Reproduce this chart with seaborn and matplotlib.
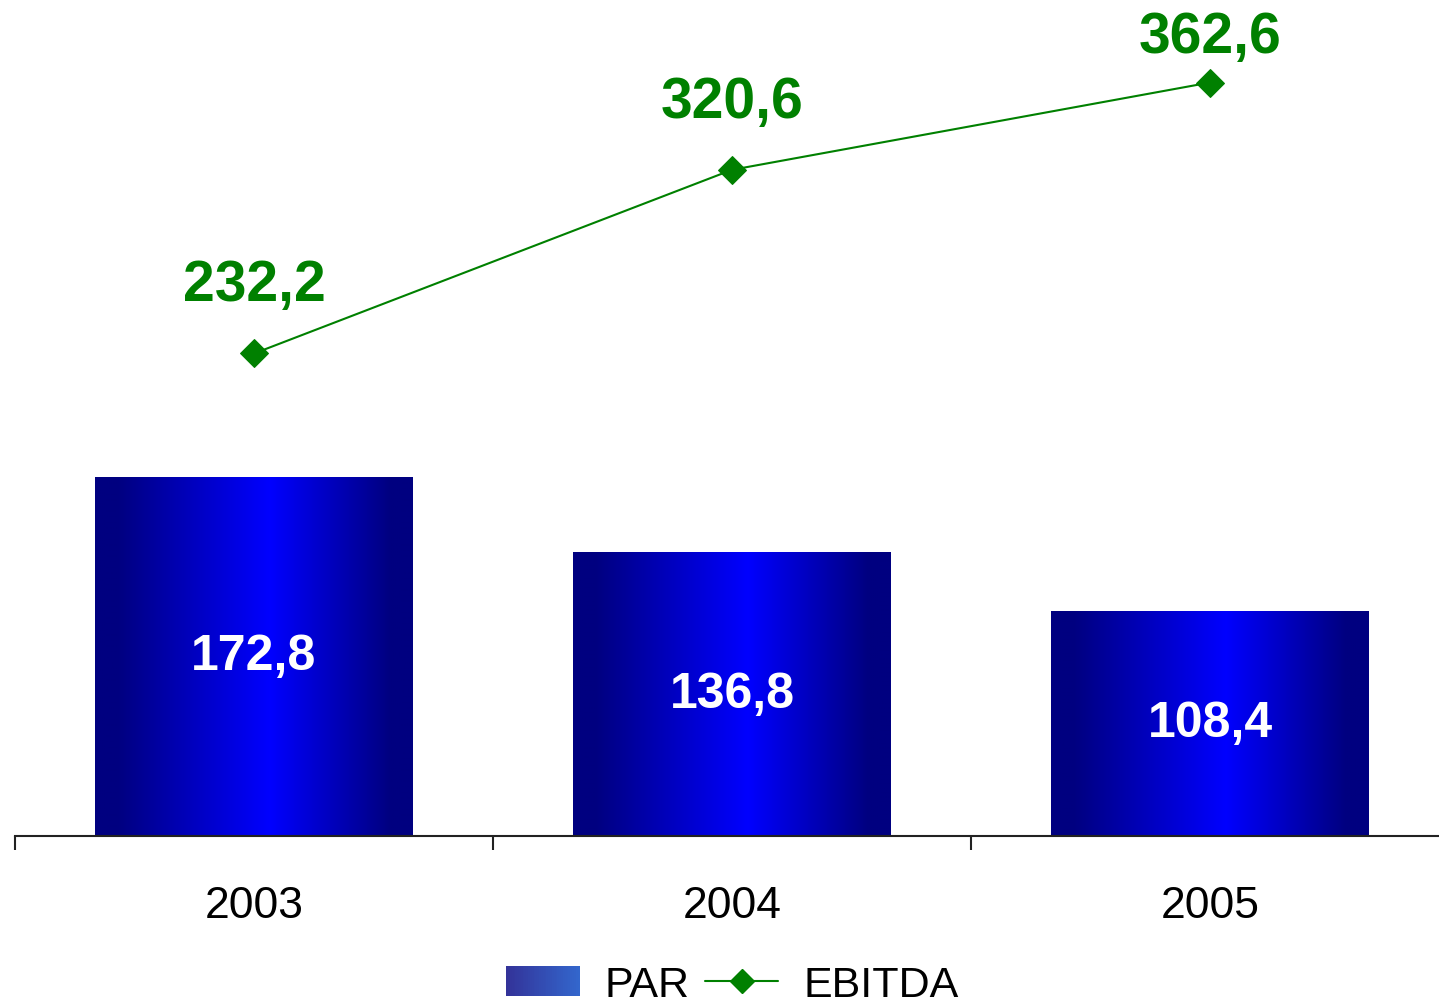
import numpy as np
import pandas as pd
import matplotlib
matplotlib.use('Agg')
import matplotlib.pyplot as plt
import seaborn as sns
from matplotlib.legend_handler import HandlerBase
from matplotlib.patches import Rectangle
from matplotlib.lines import Line2D
from matplotlib.colors import LinearSegmentedColormap, to_rgb

# ---- data ----
years = ['2003', '2004', '2005']
par = [172.8, 136.8, 108.4]
ebitda = [232.2, 320.6, 362.6]
par_labels = ['172,8', '136,8', '108,4']
ebitda_labels = ['232,2', '320,6', '362,6']
series_names = ['PAR', 'EBITDA']

sns.set_style('white')
plt.rcParams['font.family'] = ['Liberation Sans', 'DejaVu Sans']
plt.rcParams['text.color'] = 'black'
plt.rcParams['xtick.color'] = 'black'

GREEN = '#008000'
W, H = 1439, 1003

fig = plt.figure(figsize=(W / 100, H / 100), dpi=100)
ax = fig.add_axes([15 / W, 166 / H, 1434 / W, 837 / H])

df = pd.DataFrame({'year': years, 'par': par})
sns.barplot(data=df, x='year', y='par', ax=ax, width=0.665, color='#000080',
            saturation=1, edgecolor='none', linewidth=0, zorder=2)

bar_cmap = LinearSegmentedColormap.from_list(
    'bar', [(0, '#000080'), (0.07, '#000080'), (0.55, '#0000FF'),
            (0.93, '#000080'), (1, '#000080')])
grad = np.linspace(0, 1, 256).reshape(1, -1)
for p in list(ax.patches):
    x0, y0 = p.get_x(), p.get_y()
    w, h = p.get_width(), p.get_height()
    im = ax.imshow(grad, cmap=bar_cmap, aspect='auto',
                   extent=(x0, x0 + w, y0, y0 + h), zorder=2.5,
                   interpolation='bilinear')
    im.set_clip_path(p)

sns.lineplot(x=np.arange(len(years)), y=ebitda, ax=ax, color=GREEN, marker='D',
             markersize=14, linewidth=1.5, markeredgecolor=GREEN, zorder=5)

ax.set_xlim(-0.5, len(years) - 0.5)
ax.set_ylim(0, 402.8)

# green labels: 53 px above the marker, but kept inside the figure top
for i, (v, l) in enumerate(zip(ebitda, ebitda_labels)):
    ypx = ax.transData.transform((i, v))[1]
    off_px = min(53, (H - 53) - ypx)
    ax.annotate(l, (i, v), xytext=(0, off_px * 72 / 100), textcoords='offset points',
                ha='center', va='baseline', fontsize=41, fontweight='bold',
                color=GREEN, zorder=6)
for i, (v, l) in enumerate(zip(par, par_labels)):
    ax.text(i, v / 2, l, ha='center', va='center', fontsize=36,
            fontweight='bold', color='white', zorder=6)

ax.set_xlabel('')
ax.set_ylabel('')
ax.set_yticks([])
for s in ['left', 'right', 'top']:
    ax.spines[s].set_visible(False)
ax.spines['bottom'].set_linewidth(1.5)
ax.spines['bottom'].set_color('#222222')
ax.spines['bottom'].set_zorder(4)

ax.set_xticks(np.arange(len(years) + 1) - 0.5)
ax.set_xticklabels([''] * (len(years) + 1))
ax.set_xticks(np.arange(len(years)), minor=True)
ax.set_xticklabels(years, minor=True, fontsize=32)
ax.tick_params(axis='x', which='major', direction='out', length=10, width=1.5,
               color='#222222', bottom=True)
ax.tick_params(axis='x', which='minor', length=0, pad=35, labelcolor='black')


class GradHandle:
    pass


class GradHandler(HandlerBase):
    def create_artists(self, legend, orig_handle, xdescent, ydescent, width,
                       height, fontsize, trans):
        n = 40
        c0 = np.array(to_rgb('#333399'))
        c1 = np.array(to_rgb('#3366CC'))
        arts = []
        for k in range(n):
            t = k / (n - 1)
            r = Rectangle((-xdescent + width * k / n, -ydescent),
                          width / n * 1.08, height,
                          facecolor=c0 + (c1 - c0) * t, edgecolor='none',
                          transform=trans)
            arts.append(r)
        return arts


gh = GradHandle()
line_handle = Line2D([], [], color=GREEN, marker='D', markersize=12,
                     linewidth=1.5, markeredgecolor=GREEN)
leg = fig.legend([gh, line_handle], series_names, handler_map={GradHandle: GradHandler()},
                 loc='upper center', bbox_to_anchor=(0.509, 1 - 966 / H), ncol=2,
                 frameon=False, fontsize=31, handlelength=1.7, handleheight=0.7,
                 handletextpad=0.58, columnspacing=0.37, borderpad=0, borderaxespad=0)
for t in leg.get_texts():
    t.set_color('black')

fig.savefig('out.png', dpi=100)
